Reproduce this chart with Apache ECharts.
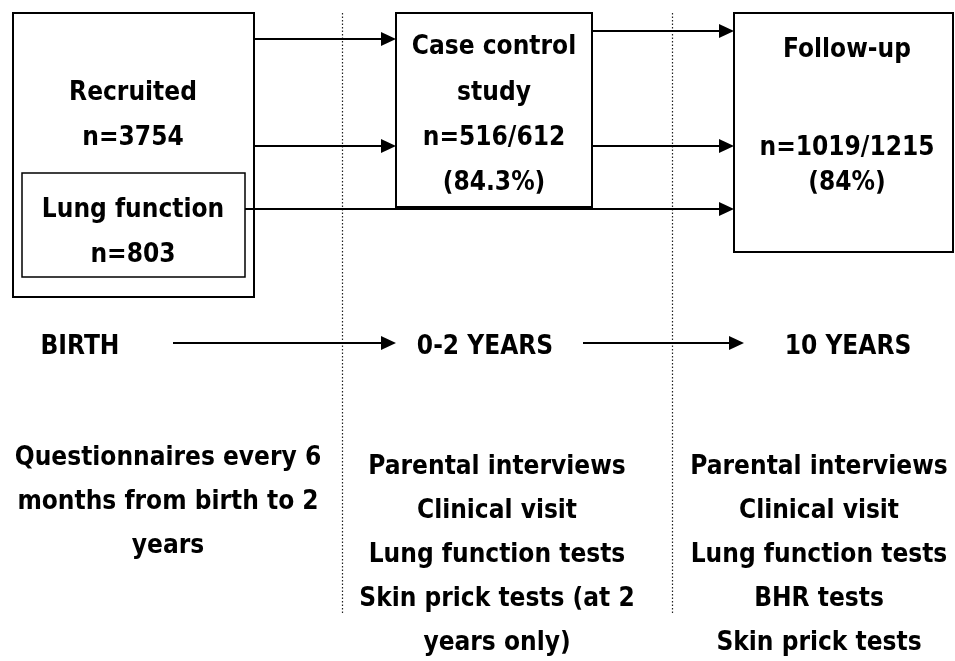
<!DOCTYPE html>
<html>
<head>
<meta charset="utf-8">
<script src="https://cdn.jsdelivr.net/npm/echarts@6/dist/echarts.min.js"></script>
<style>
  html, body { margin: 0; padding: 0; background: #fff; }
  #chart { width: 955px; height: 661px; }
</style>
</head>
<body>
<div id="chart"></div>
<script>
// box texts
const recruitedText = ['Recruited', 'n=3754']
const lungText = ['Lung function', 'n=803']
const caseText = ['Case control', 'study', 'n=516/612', '(84.3%)']
const followText = ['Follow-up', 'n=1019/1215', '(84%)']

// time line
const stages = ['BIRTH', '0-2 YEARS', '10 YEARS']
const birthTasks = ['Questionnaires every 6', 'months from birth to 2', 'years']
const earlyTasks = ['Parental interviews', 'Clinical visit', 'Lung function tests', 'Skin prick tests (at 2', 'years only)']
const tenTasks = ['Parental interviews', 'Clinical visit', 'Lung function tests', 'BHR tests', 'Skin prick tests']

// layout, in page pixels (y goes down)
const boxes = [
  { rect: [13, 13, 254, 297], lw: 2 },
  { rect: [22, 173, 245, 277], lw: 1.5 },
  { rect: [396, 13, 592, 207], lw: 2 },
  { rect: [734, 13, 953, 252], lw: 2 }
]
const textBlocks = [
  { lines: recruitedText, x: 133, ys: [93, 138] },
  { lines: lungText, x: 133, ys: [210, 255] },
  { lines: caseText, x: 494, ys: [47, 93, 138, 183] },
  { lines: followText, x: 847, ys: [50, 148, 183] },
  { lines: stages.slice(0, 1), x: 80, ys: [347] },
  { lines: stages.slice(1, 2), x: 485, ys: [347] },
  { lines: stages.slice(2, 3), x: 848, ys: [347] },
  { lines: birthTasks, x: 168, ys: [458, 502, 546] },
  { lines: earlyTasks, x: 497, ys: [467, 511, 555, 599, 643] },
  { lines: tenTasks, x: 819, ys: [467, 511, 555, 599, 643] }
]
// [x from, y, x to]
const arrows = [
  [254, 39, 396], [254, 146, 396], [245, 209, 734],
  [592, 31, 734], [592, 146, 734],
  [173, 343, 396], [583, 343, 744]
]
const dividers = [342, 672]

const FONT = '"DejaVu Sans Condensed", "DejaVu Sans", sans-serif'

const labels = []
textBlocks.forEach(b => b.lines.forEach((t, i) => labels.push({ name: t, value: [b.x, b.ys[i]] })))

const chart = echarts.init(document.getElementById('chart'))

chart.setOption({
  animation: false,
  grid: { left: 0, right: 0, top: 0, bottom: 0 },
  xAxis: { type: 'value', min: 0, max: 955, show: false },
  yAxis: { type: 'value', min: 0, max: 661, inverse: true, show: false },
  series: [
    {
      // dotted stage dividers
      type: 'custom',
      data: dividers.map(x => [x, 13]),
      silent: true,
      renderItem: (params, api) => {
        const p1 = api.coord([api.value(0), 13])
        const p2 = api.coord([api.value(0), 615])
        return {
          type: 'line',
          shape: { x1: p1[0] + 0.5, y1: p1[1], x2: p2[0] + 0.5, y2: p2[1] },
          style: { stroke: '#222', lineWidth: 1.2, lineDash: [1.5, 2] }
        }
      }
    },
    {
      type: 'custom',
      data: boxes.map(b => [b.rect[0], b.rect[1]]),
      silent: true,
      renderItem: (params, api) => {
        const b = boxes[params.dataIndex]
        const p1 = api.coord([b.rect[0], b.rect[1]])
        const p2 = api.coord([b.rect[2], b.rect[3]])
        return {
          type: 'rect',
          shape: { x: p1[0], y: p1[1], width: p2[0] - p1[0], height: p2[1] - p1[1] },
          style: { fill: '#fff', stroke: '#000', lineWidth: b.lw }
        }
      }
    },
    {
      type: 'custom',
      data: arrows.map(a => [a[0], a[1]]),
      silent: true,
      renderItem: (params, api) => {
        const a = arrows[params.dataIndex]
        const p1 = api.coord([a[0], a[1]])
        const p2 = api.coord([a[2], a[1]])
        const len = 15, half = 7
        return {
          type: 'group',
          children: [
            {
              type: 'line',
              shape: { x1: p1[0], y1: p1[1], x2: p2[0] - len + 1, y2: p2[1] },
              style: { stroke: '#000', lineWidth: 2 }
            },
            {
              type: 'polygon',
              shape: { points: [[p2[0], p2[1]], [p2[0] - len, p2[1] - half], [p2[0] - len, p2[1] + half]] },
              style: { fill: '#000' }
            }
          ]
        }
      }
    },
    {
      type: 'custom',
      data: labels,
      silent: true,
      renderItem: (params, api) => {
        const p = api.coord([api.value(0), api.value(1)])
        return {
          type: 'text',
          style: {
            text: labels[params.dataIndex].name,
            x: p[0], y: p[1],
            align: 'center', verticalAlign: 'middle',
            fill: '#000',
            fontFamily: FONT, fontWeight: 'bold', fontSize: 26
          }
        }
      }
    }
  ]
})
</script>
</body>
</html>
